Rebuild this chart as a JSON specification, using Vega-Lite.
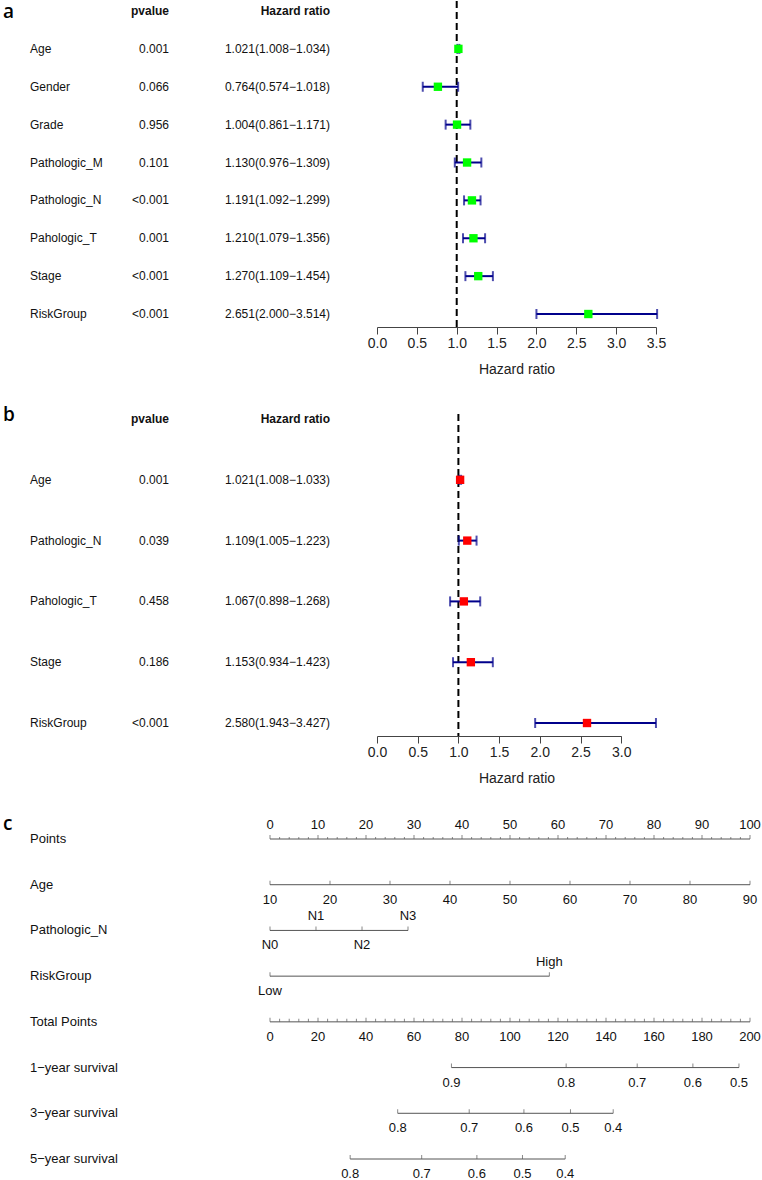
{
  "$schema": "https://vega.github.io/schema/vega-lite/v6.json",
  "padding": 0,
  "background": "white",
  "config": {"view": {"stroke": null}, "font": "Liberation Sans", "text": {"color": "#111"}, "axis": {"labelOverlap": false, "labelFlush": false, "labelBound": false}},
  "datasets": {
    "fa": [
      {"var": "Age", "p": "0.001", "hr": "1.021(1.008−1.034)", "est": 1.021, "lo": 1.008, "hi": 1.034},
      {"var": "Gender", "p": "0.066", "hr": "0.764(0.574−1.018)", "est": 0.764, "lo": 0.574, "hi": 1.018},
      {"var": "Grade", "p": "0.956", "hr": "1.004(0.861−1.171)", "est": 1.004, "lo": 0.861, "hi": 1.171},
      {"var": "Pathologic_M", "p": "0.101", "hr": "1.130(0.976−1.309)", "est": 1.130, "lo": 0.976, "hi": 1.309},
      {"var": "Pathologic_N", "p": "<0.001", "hr": "1.191(1.092−1.299)", "est": 1.191, "lo": 1.092, "hi": 1.299},
      {"var": "Pahologic_T", "p": "0.001", "hr": "1.210(1.079−1.356)", "est": 1.210, "lo": 1.079, "hi": 1.356},
      {"var": "Stage", "p": "<0.001", "hr": "1.270(1.109−1.454)", "est": 1.270, "lo": 1.109, "hi": 1.454},
      {"var": "RiskGroup", "p": "<0.001", "hr": "2.651(2.000−3.514)", "est": 2.651, "lo": 2.000, "hi": 3.514}
    ],
    "fb": [
      {"var": "Age", "p": "0.001", "hr": "1.021(1.008−1.033)", "est": 1.021, "lo": 1.008, "hi": 1.033},
      {"var": "Pathologic_N", "p": "0.039", "hr": "1.109(1.005−1.223)", "est": 1.109, "lo": 1.005, "hi": 1.223},
      {"var": "Pahologic_T", "p": "0.458", "hr": "1.067(0.898−1.268)", "est": 1.067, "lo": 0.898, "hi": 1.268},
      {"var": "Stage", "p": "0.186", "hr": "1.153(0.934−1.423)", "est": 1.153, "lo": 0.934, "hi": 1.423},
      {"var": "RiskGroup", "p": "<0.001", "hr": "2.580(1.943−3.427)", "est": 2.580, "lo": 1.943, "hi": 3.427}
    ],
    "hdr": [{"p": "pvalue", "hr": "Hazard ratio"}],
    "nlines": [
      {"axis": "Points", "from": 0, "to": 100},
      {"axis": "Age", "from": 0, "to": 100},
      {"axis": "Pathologic_N", "from": 0, "to": 28.75},
      {"axis": "RiskGroup", "from": 0, "to": 58.2},
      {"axis": "Total Points", "from": 0, "to": 100},
      {"axis": "1−year survival", "from": 37.8, "to": 97.7},
      {"axis": "3−year survival", "from": 26.6, "to": 71.5},
      {"axis": "5−year survival", "from": 16.7, "to": 61.5}
    ],
    "nticks": [
      {"axis": "Points", "pts": 0, "label": "0"}, {"axis": "Points", "pts": 10, "label": "10"}, {"axis": "Points", "pts": 20, "label": "20"},
      {"axis": "Points", "pts": 30, "label": "30"}, {"axis": "Points", "pts": 40, "label": "40"}, {"axis": "Points", "pts": 50, "label": "50"},
      {"axis": "Points", "pts": 60, "label": "60"}, {"axis": "Points", "pts": 70, "label": "70"}, {"axis": "Points", "pts": 80, "label": "80"},
      {"axis": "Points", "pts": 90, "label": "90"}, {"axis": "Points", "pts": 100, "label": "100"},
      {"axis": "Age", "pts": 0, "label": "10"}, {"axis": "Age", "pts": 12.5, "label": "20"}, {"axis": "Age", "pts": 25, "label": "30"},
      {"axis": "Age", "pts": 37.5, "label": "40"}, {"axis": "Age", "pts": 50, "label": "50"}, {"axis": "Age", "pts": 62.5, "label": "60"},
      {"axis": "Age", "pts": 75, "label": "70"}, {"axis": "Age", "pts": 87.5, "label": "80"}, {"axis": "Age", "pts": 100, "label": "90"},
      {"axis": "Pathologic_N", "pts": 0, "label": "N0"}, {"axis": "Pathologic_N", "pts": 9.58, "label": "N1"},
      {"axis": "Pathologic_N", "pts": 19.17, "label": "N2"}, {"axis": "Pathologic_N", "pts": 28.75, "label": "N3"},
      {"axis": "RiskGroup", "pts": 0, "label": "Low"}, {"axis": "RiskGroup", "pts": 58.2, "label": "High"},
      {"axis": "Total Points", "pts": 0, "label": "0"}, {"axis": "Total Points", "pts": 10, "label": "20"}, {"axis": "Total Points", "pts": 20, "label": "40"},
      {"axis": "Total Points", "pts": 30, "label": "60"}, {"axis": "Total Points", "pts": 40, "label": "80"}, {"axis": "Total Points", "pts": 50, "label": "100"},
      {"axis": "Total Points", "pts": 60, "label": "120"}, {"axis": "Total Points", "pts": 70, "label": "140"}, {"axis": "Total Points", "pts": 80, "label": "160"},
      {"axis": "Total Points", "pts": 90, "label": "180"}, {"axis": "Total Points", "pts": 100, "label": "200"},
      {"axis": "1−year survival", "pts": 37.8, "label": "0.9"}, {"axis": "1−year survival", "pts": 61.7, "label": "0.8"},
      {"axis": "1−year survival", "pts": 76.5, "label": "0.7"}, {"axis": "1−year survival", "pts": 88.1, "label": "0.6"},
      {"axis": "1−year survival", "pts": 97.7, "label": "0.5"},
      {"axis": "3−year survival", "pts": 26.6, "label": "0.8"}, {"axis": "3−year survival", "pts": 41.5, "label": "0.7"},
      {"axis": "3−year survival", "pts": 52.9, "label": "0.6"}, {"axis": "3−year survival", "pts": 62.6, "label": "0.5"},
      {"axis": "3−year survival", "pts": 71.5, "label": "0.4"},
      {"axis": "5−year survival", "pts": 16.7, "label": "0.8"}, {"axis": "5−year survival", "pts": 31.6, "label": "0.7"},
      {"axis": "5−year survival", "pts": 43.1, "label": "0.6"}, {"axis": "5−year survival", "pts": 52.6, "label": "0.5"},
      {"axis": "5−year survival", "pts": 61.5, "label": "0.4"}
    ],
    "nminor": [
      {"pts": 2}, {"pts": 4}, {"pts": 6}, {"pts": 8}, {"pts": 12}, {"pts": 14}, {"pts": 16}, {"pts": 18},
      {"pts": 22}, {"pts": 24}, {"pts": 26}, {"pts": 28}, {"pts": 32}, {"pts": 34}, {"pts": 36}, {"pts": 38},
      {"pts": 42}, {"pts": 44}, {"pts": 46}, {"pts": 48}, {"pts": 52}, {"pts": 54}, {"pts": 56}, {"pts": 58},
      {"pts": 62}, {"pts": 64}, {"pts": 66}, {"pts": 68}, {"pts": 72}, {"pts": 74}, {"pts": 76}, {"pts": 78},
      {"pts": 82}, {"pts": 84}, {"pts": 86}, {"pts": 88}, {"pts": 92}, {"pts": 94}, {"pts": 96}, {"pts": 98}
    ]
  },
  "spacing": 30,
  "vconcat": [
    {
      "spacing": 0, "bounds": "flush",
      "hconcat": [
        {"width": 30, "height": 326, "data": {"values": [{"t": "a"}]},
         "mark": {"type": "text", "align": "left", "baseline": "middle", "font": "Open Sans", "fontSize": 19, "fontWeight": 600, "dx": 3, "dy": 1, "color": "#000"},
         "encoding": {"text": {"field": "t"}, "x": {"value": 0},
           "y": {"datum": "header", "type": "nominal", "axis": null, "scale": {"type": "point", "domain": ["header", "Age", "Gender", "Grade", "Pathologic_M", "Pathologic_N", "Pahologic_T", "Stage", "RiskGroup"], "padding": 0.3035, "align": 0.435}}}},
        {"width": 100, "height": 326, "data": {"name": "fa"},
         "mark": {"type": "text", "align": "left", "baseline": "middle", "fontSize": 12},
         "encoding": {"text": {"field": "var"}, "x": {"value": 0},
           "y": {"field": "var", "type": "nominal", "axis": null, "scale": {"type": "point", "domain": ["header", "Age", "Gender", "Grade", "Pathologic_M", "Pathologic_N", "Pahologic_T", "Stage", "RiskGroup"], "padding": 0.3035, "align": 0.435}}}},
        {"width": 39, "height": 326,
         "layer": [
           {"data": {"name": "hdr"}, "mark": {"type": "text", "align": "right", "baseline": "middle", "fontSize": 12, "fontWeight": "bold"},
            "encoding": {"text": {"field": "p"}, "x": {"value": "width"},
              "y": {"datum": "header", "type": "nominal", "axis": null, "scale": {"type": "point", "domain": ["header", "Age", "Gender", "Grade", "Pathologic_M", "Pathologic_N", "Pahologic_T", "Stage", "RiskGroup"], "padding": 0.3035, "align": 0.435}}}},
           {"data": {"name": "fa"}, "mark": {"type": "text", "align": "right", "baseline": "middle", "fontSize": 12},
            "encoding": {"text": {"field": "p"}, "x": {"value": "width"},
              "y": {"field": "var", "type": "nominal", "axis": null, "scale": {"type": "point", "domain": ["header", "Age", "Gender", "Grade", "Pathologic_M", "Pathologic_N", "Pahologic_T", "Stage", "RiskGroup"], "padding": 0.3035, "align": 0.435}}}}
         ]},
        {"width": 161, "height": 326,
         "layer": [
           {"data": {"name": "hdr"}, "mark": {"type": "text", "align": "right", "baseline": "middle", "fontSize": 12, "fontWeight": "bold"},
            "encoding": {"text": {"field": "hr"}, "x": {"value": "width"},
              "y": {"datum": "header", "type": "nominal", "axis": null, "scale": {"type": "point", "domain": ["header", "Age", "Gender", "Grade", "Pathologic_M", "Pathologic_N", "Pahologic_T", "Stage", "RiskGroup"], "padding": 0.3035, "align": 0.435}}}},
           {"data": {"name": "fa"}, "mark": {"type": "text", "align": "right", "baseline": "middle", "fontSize": 12},
            "encoding": {"text": {"field": "hr"}, "x": {"value": "width"},
              "y": {"field": "var", "type": "nominal", "axis": null, "scale": {"type": "point", "domain": ["header", "Age", "Gender", "Grade", "Pathologic_M", "Pathologic_N", "Pahologic_T", "Stage", "RiskGroup"], "padding": 0.3035, "align": 0.435}}}}
         ]},
        {"width": 46.7, "height": 326, "data": {"values": []}, "mark": "point", "encoding": {}},
        {
          "width": 279, "height": 326,
          "layer": [
            {"data": {"values": [{}]}, "mark": {"type": "rule", "strokeDash": [7, 4], "strokeWidth": 2, "color": "#000"},
             "encoding": {"x": {"datum": 1, "type": "quantitative", "title": "Hazard ratio",
               "scale": {"domain": [0, 3.5], "nice": false, "zero": false},
               "axis": {"values": [0, 0.5, 1, 1.5, 2, 2.5, 3, 3.5], "tickCount": 12, "format": ".1f", "grid": false, "labelFlush": false, "labelOverlap": false,
                 "labelFontSize": 14, "labelColor": "#222", "labelPadding": 2, "tickSize": 7, "tickColor": "#444", "domainColor": "#444",
                 "titleFontSize": 14, "titleFontWeight": "normal", "titleColor": "#222", "titlePadding": 12}}}},
            {"data": {"name": "fa"}, "mark": {"type": "rule", "strokeWidth": 2, "color": "#00008B"},
             "encoding": {
               "x": {"field": "lo", "type": "quantitative", "title": "Hazard ratio"},
               "x2": {"field": "hi"},
               "y": {"field": "var", "type": "nominal", "axis": null, "scale": {"type": "point", "domain": ["header", "Age", "Gender", "Grade", "Pathologic_M", "Pathologic_N", "Pahologic_T", "Stage", "RiskGroup"], "padding": 0.3035, "align": 0.435}}}},
            {"data": {"name": "fa"}, "mark": {"type": "tick", "orient": "vertical", "size": 10, "thickness": 2, "color": "#00008B"},
             "encoding": {"x": {"field": "lo", "type": "quantitative", "title": "Hazard ratio"}, "y": {"field": "var", "type": "nominal"}}},
            {"data": {"name": "fa"}, "mark": {"type": "tick", "orient": "vertical", "size": 10, "thickness": 2, "color": "#00008B"},
             "encoding": {"x": {"field": "hi", "type": "quantitative", "title": "Hazard ratio"}, "y": {"field": "var", "type": "nominal"}}},
            {"data": {"name": "fa"}, "mark": {"type": "point", "shape": "square", "filled": true, "size": 70, "color": "#00FF00", "opacity": 1},
             "encoding": {"x": {"field": "est", "type": "quantitative", "title": "Hazard ratio"}, "y": {"field": "var", "type": "nominal"}}}
          ]
        }
      ]
    },
    {
      "spacing": 0, "bounds": "flush",
      "hconcat": [
        {"width": 30, "height": 322, "data": {"values": [{"t": "b"}]},
         "mark": {"type": "text", "align": "left", "baseline": "middle", "font": "Open Sans", "fontSize": 19, "fontWeight": 600, "dx": 3, "dy": -4, "color": "#000"},
         "encoding": {"text": {"field": "t"}, "x": {"value": 0},
           "y": {"datum": "header", "type": "nominal", "axis": null, "scale": {"type": "point", "domain": ["header", "Age", "Pathologic_N", "Pahologic_T", "Stage", "RiskGroup"], "padding": 0.148, "align": 0.278}}}},
        {"width": 100, "height": 322, "data": {"name": "fb"},
         "mark": {"type": "text", "align": "left", "baseline": "middle", "fontSize": 12},
         "encoding": {"text": {"field": "var"}, "x": {"value": 0},
           "y": {"field": "var", "type": "nominal", "axis": null, "scale": {"type": "point", "domain": ["header", "Age", "Pathologic_N", "Pahologic_T", "Stage", "RiskGroup"], "padding": 0.148, "align": 0.278}}}},
        {"width": 39, "height": 322,
         "layer": [
           {"data": {"name": "hdr"}, "mark": {"type": "text", "align": "right", "baseline": "middle", "fontSize": 12, "fontWeight": "bold"},
            "encoding": {"text": {"field": "p"}, "x": {"value": "width"},
              "y": {"datum": "header", "type": "nominal", "axis": null, "scale": {"type": "point", "domain": ["header", "Age", "Pathologic_N", "Pahologic_T", "Stage", "RiskGroup"], "padding": 0.148, "align": 0.278}}}},
           {"data": {"name": "fb"}, "mark": {"type": "text", "align": "right", "baseline": "middle", "fontSize": 12},
            "encoding": {"text": {"field": "p"}, "x": {"value": "width"},
              "y": {"field": "var", "type": "nominal", "axis": null, "scale": {"type": "point", "domain": ["header", "Age", "Pathologic_N", "Pahologic_T", "Stage", "RiskGroup"], "padding": 0.148, "align": 0.278}}}}
         ]},
        {"width": 161, "height": 322,
         "layer": [
           {"data": {"name": "hdr"}, "mark": {"type": "text", "align": "right", "baseline": "middle", "fontSize": 12, "fontWeight": "bold"},
            "encoding": {"text": {"field": "hr"}, "x": {"value": "width"},
              "y": {"datum": "header", "type": "nominal", "axis": null, "scale": {"type": "point", "domain": ["header", "Age", "Pathologic_N", "Pahologic_T", "Stage", "RiskGroup"], "padding": 0.148, "align": 0.278}}}},
           {"data": {"name": "fb"}, "mark": {"type": "text", "align": "right", "baseline": "middle", "fontSize": 12},
            "encoding": {"text": {"field": "hr"}, "x": {"value": "width"},
              "y": {"field": "var", "type": "nominal", "axis": null, "scale": {"type": "point", "domain": ["header", "Age", "Pathologic_N", "Pahologic_T", "Stage", "RiskGroup"], "padding": 0.148, "align": 0.278}}}}
         ]},
        {"width": 46.7, "height": 322, "data": {"values": []}, "mark": "point", "encoding": {}},
        {
          "width": 244.2, "height": 322,
          "layer": [
            {"data": {"values": [{}]}, "mark": {"type": "rule", "strokeDash": [7, 4], "strokeWidth": 2, "color": "#000"},
             "encoding": {"x": {"datum": 1, "type": "quantitative", "title": "Hazard ratio",
               "scale": {"domain": [0, 3.0], "nice": false, "zero": false},
               "axis": {"values": [0, 0.5, 1, 1.5, 2, 2.5, 3], "tickCount": 12, "format": ".1f", "grid": false, "labelFlush": false, "labelOverlap": false,
                 "labelFontSize": 14, "labelColor": "#222", "labelPadding": 2, "tickSize": 7, "tickColor": "#444", "domainColor": "#444",
                 "titleFontSize": 14, "titleFontWeight": "normal", "titleColor": "#222", "titlePadding": 12, "titleX": 139.5}}}},
            {"data": {"name": "fb"}, "mark": {"type": "rule", "strokeWidth": 2, "color": "#00008B"},
             "encoding": {
               "x": {"field": "lo", "type": "quantitative", "title": "Hazard ratio"},
               "x2": {"field": "hi"},
               "y": {"field": "var", "type": "nominal", "axis": null, "scale": {"type": "point", "domain": ["header", "Age", "Pathologic_N", "Pahologic_T", "Stage", "RiskGroup"], "padding": 0.148, "align": 0.278}}}},
            {"data": {"name": "fb"}, "mark": {"type": "tick", "orient": "vertical", "size": 10, "thickness": 2, "color": "#00008B"},
             "encoding": {"x": {"field": "lo", "type": "quantitative", "title": "Hazard ratio"}, "y": {"field": "var", "type": "nominal"}}},
            {"data": {"name": "fb"}, "mark": {"type": "tick", "orient": "vertical", "size": 10, "thickness": 2, "color": "#00008B"},
             "encoding": {"x": {"field": "hi", "type": "quantitative", "title": "Hazard ratio"}, "y": {"field": "var", "type": "nominal"}}},
            {"data": {"name": "fb"}, "mark": {"type": "point", "shape": "square", "filled": true, "size": 70, "color": "#FF0000", "opacity": 1},
             "encoding": {"x": {"field": "est", "type": "quantitative", "title": "Hazard ratio"}, "y": {"field": "var", "type": "nominal"}}}
          ]
        }
      ]
    },
    {
      "spacing": 0, "bounds": "flush",
      "hconcat": [
        {"width": 30, "height": 352, "data": {"values": [{"t": "c"}]},
         "mark": {"type": "text", "align": "left", "baseline": "middle", "font": "Open Sans", "fontSize": 19, "fontWeight": 600, "dx": 3, "dy": -15, "color": "#000"},
         "encoding": {"text": {"field": "t"}, "x": {"value": 0},
           "y": {"datum": "Points", "type": "nominal", "axis": null, "scale": {"type": "point", "domain": ["Points", "Age", "Pathologic_N", "RiskGroup", "Total Points", "1−year survival", "3−year survival", "5−year survival"], "padding": 0.35}}}},
        {"width": 240, "height": 352, "data": {"name": "nlines"},
         "mark": {"type": "text", "align": "left", "baseline": "middle", "fontSize": 13},
         "encoding": {"text": {"field": "axis"}, "x": {"value": 0},
           "y": {"field": "axis", "type": "nominal", "axis": null, "scale": {"type": "point", "domain": ["Points", "Age", "Pathologic_N", "RiskGroup", "Total Points", "1−year survival", "3−year survival", "5−year survival"], "padding": 0.35}}}},
        {
          "width": 480, "height": 352,
          "layer": [
            {"data": {"name": "nlines"}, "mark": {"type": "rule", "strokeWidth": 1, "color": "#555"},
             "encoding": {
               "x": {"field": "from", "type": "quantitative", "axis": null, "scale": {"domain": [0, 100], "nice": false, "zero": false}},
               "x2": {"field": "to"},
               "y": {"field": "axis", "type": "nominal", "axis": null, "scale": {"type": "point", "domain": ["Points", "Age", "Pathologic_N", "RiskGroup", "Total Points", "1−year survival", "3−year survival", "5−year survival"], "padding": 0.35}}}},
            {"data": {"name": "nticks"}, "mark": {"type": "tick", "orient": "vertical", "size": 4, "thickness": 1, "yOffset": -2, "color": "#555"},
             "encoding": {"x": {"field": "pts", "type": "quantitative", "axis": null}, "y": {"field": "axis", "type": "nominal"}}},
            {"data": {"name": "nminor"}, "mark": {"type": "tick", "orient": "vertical", "size": 2, "thickness": 1, "yOffset": -1, "color": "#555"},
             "encoding": {"x": {"field": "pts", "type": "quantitative", "axis": null}, "y": {"datum": "Points", "type": "nominal"}}},
            {"data": {"name": "nminor"}, "mark": {"type": "tick", "orient": "vertical", "size": 3, "thickness": 1, "yOffset": -1.5, "color": "#555"},
             "encoding": {"x": {"field": "pts", "type": "quantitative", "axis": null}, "y": {"datum": "Total Points", "type": "nominal"}}},
            {"data": {"name": "nticks"},
             "transform": [{"filter": "datum.axis === 'Points' || datum.label === 'N1' || datum.label === 'N3' || datum.label === 'High'"}],
             "mark": {"type": "text", "align": "center", "baseline": "middle", "fontSize": 13, "dy": -14},
             "encoding": {"text": {"field": "label"}, "x": {"field": "pts", "type": "quantitative", "axis": null}, "y": {"field": "axis", "type": "nominal"}}},
            {"data": {"name": "nticks"},
             "transform": [{"filter": "!(datum.axis === 'Points' || datum.label === 'N1' || datum.label === 'N3' || datum.label === 'High')"}],
             "mark": {"type": "text", "align": "center", "baseline": "middle", "fontSize": 13, "dy": 15},
             "encoding": {"text": {"field": "label"}, "x": {"field": "pts", "type": "quantitative", "axis": null}, "y": {"field": "axis", "type": "nominal"}}}
          ]
        }
      ]
    }
  ]
}
